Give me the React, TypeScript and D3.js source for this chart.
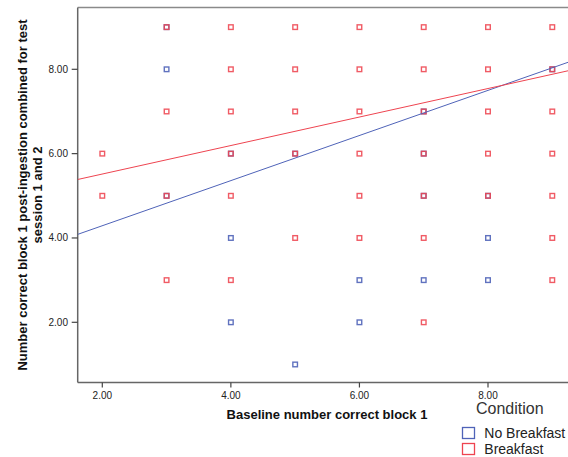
import React from 'react';
import * as d3 from 'd3';

// No Breakfast (blue) and Breakfast (red) cases, [baseline, post-ingestion]
const noBreakfast: [number, number][] = [
  [3, 9], [3, 8], [3, 5], [4, 6], [4, 4], [4, 2], [5, 6], [5, 1],
  [6, 3], [6, 2], [7, 7], [7, 6], [7, 5], [7, 3], [8, 5], [8, 4], [8, 3], [9, 8],
];
const breakfast: [number, number][] = [
  [2, 6], [2, 5],
  [3, 9], [3, 7], [3, 5], [3, 3],
  [4, 9], [4, 8], [4, 7], [4, 6], [4, 5], [4, 3],
  [5, 9], [5, 8], [5, 7], [5, 6], [5, 4],
  [6, 9], [6, 8], [6, 7], [6, 6], [6, 5], [6, 4],
  [7, 9], [7, 8], [7, 7], [7, 6], [7, 5], [7, 4], [7, 2],
  [8, 9], [8, 8], [8, 7], [8, 6], [8, 5],
  [9, 9], [9, 8], [9, 7], [9, 6], [9, 5], [9, 4], [9, 3],
];
// fit lines: [intercept, slope]
const fitNoBreakfast = [3.22, 0.535];
const fitBreakfast = [4.84, 0.338];

const xTicks = [2, 4, 6, 8];
const yTicks = [2, 4, 6, 8];
const legendItems = ['No Breakfast', 'Breakfast'];

const BLUE = '#4f63b8';
const RED = '#ee4450';
const FONT = '"Liberation Sans", Arial, sans-serif';

const App = () => {
  const W = 568;
  const H = 457;
  const left = 77.7, top = 7.5, bottom = 382.5, right = 568;

  const x = d3.scaleLinear().domain([2, 8]).range([102.3, 488]);
  const y = d3.scaleLinear().domain([2, 8]).range([322.3, 69.3]);
  const x0 = x.invert(left);
  const x1 = x.invert(right);

  const line = d3.line<number>().x(d => x(d[0])).y(d => y(d[1]));
  const fitPath = (f: number[]) =>
    line([[x0, f[0] + f[1] * x0], [x1, f[0] + f[1] * x1]] as any);

  const colors = [BLUE, RED];

  return (
    <svg width={W} height={H} style={{ position: 'absolute', left: 0, top: 0 }} fontFamily={FONT}>
      <rect width={W} height={H} fill="#fff" />
      <defs>
        <clipPath id="plot">
          <rect x={left} y={top} width={right - left} height={bottom - top} />
        </clipPath>
      </defs>

      {/* frame */}
      <line x1={left} x2={right} y1={top} y2={top} stroke="#8a8a8a" strokeWidth={1.5} />
      <line x1={left} x2={left} y1={top} y2={bottom} stroke="#666" strokeWidth={1.5} />
      <line x1={left} x2={right} y1={bottom} y2={bottom} stroke="#666" strokeWidth={1.5} />

      {/* x ticks */}
      {xTicks.map(t => (
        <g key={'x' + t} transform={`translate(${x(t)},0)`}>
          <line y1={bottom} y2={bottom + 5} stroke="#444" strokeWidth={1.2} />
          <text y={398.5} textAnchor="middle" fontSize={10} fill="#222">{t.toFixed(2)}</text>
        </g>
      ))}
      {/* y ticks */}
      {yTicks.map(t => (
        <g key={'y' + t} transform={`translate(0,${y(t)})`}>
          <line x1={left - 6} x2={left} stroke="#444" strokeWidth={1.2} />
          <text x={68} dy="0.35em" textAnchor="end" fontSize={10} fill="#222">{t.toFixed(2)}</text>
        </g>
      ))}

      <g clipPath="url(#plot)">
        {[noBreakfast, breakfast].map((pts, i) =>
          pts.map((p, j) => (
            <rect key={i + '-' + j} x={x(p[0]) - 2.3} y={y(p[1]) - 2.3} width={4.6} height={4.6}
              fill="none" stroke={colors[i]} strokeWidth={1.4} strokeOpacity={i === 1 ? 0.88 : 0.9} />
          ))
        )}
        <path d={fitPath(fitNoBreakfast) || ''} stroke={BLUE} strokeWidth={1} fill="none" />
        <path d={fitPath(fitBreakfast) || ''} stroke={RED} strokeWidth={1} fill="none" />
      </g>

      {/* axis titles */}
      <text x={327} y={418.5} textAnchor="middle" fontSize={13} fontWeight="bold" fill="#111">
        Baseline number correct block 1
      </text>
      <g transform="translate(26.5,195) rotate(-90)">
        <text textAnchor="middle" fontSize={13} fontWeight="bold" fill="#111">
          Number correct block 1 post-ingestion combined for test
        </text>
        <text y={15.5} textAnchor="middle" fontSize={13} fontWeight="bold" fill="#111">
          session 1 and 2
        </text>
      </g>

      {/* legend */}
      <text x={476} y={413.5} fontSize={16} fill="#333">Condition</text>
      {legendItems.map((name, i) => (
        <g key={name} transform={`translate(0,${i * 16})`}>
          <rect x={462.5} y={427.5} width={12} height={11} fill="none" stroke={colors[i]} strokeWidth={1.3} />
          <text x={484.3} y={438.3} fontSize={14} fill="#222">{name}</text>
        </g>
      ))}
    </svg>
  );
};

export default App;
